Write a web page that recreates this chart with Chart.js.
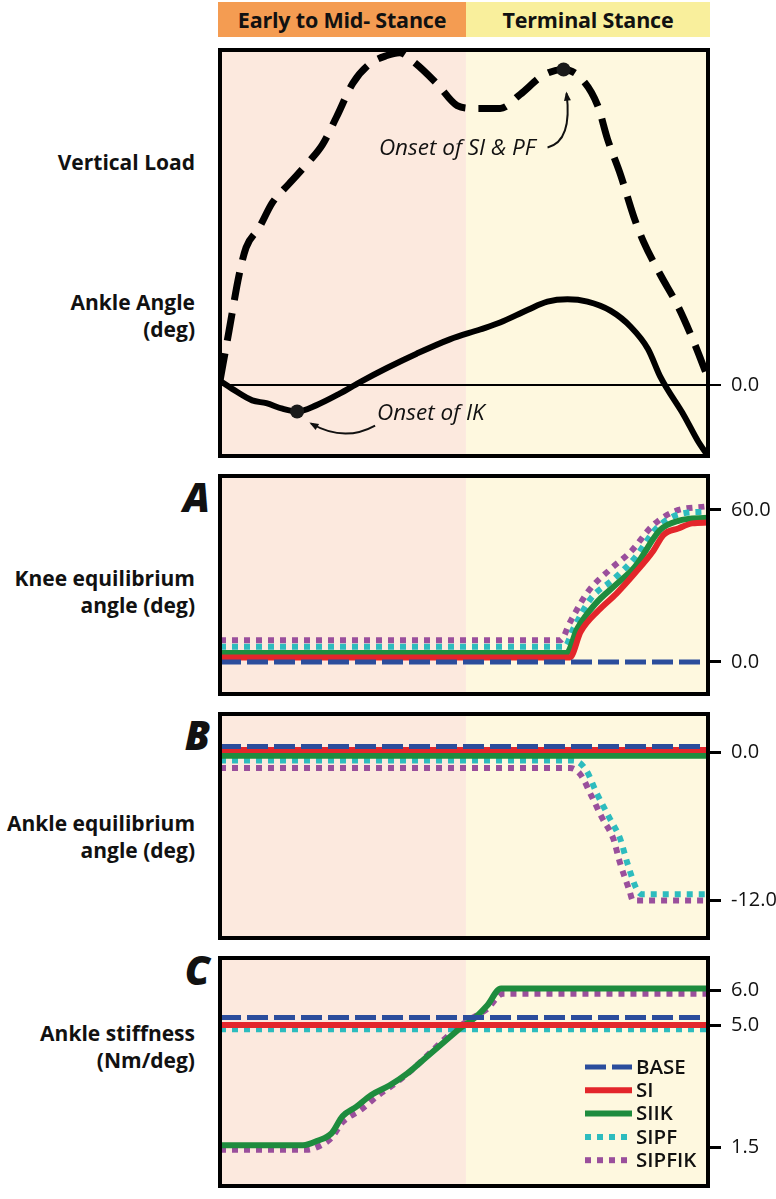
<!DOCTYPE html>
<html>
<head>
<meta charset="utf-8">
<script src="https://cdn.jsdelivr.net/npm/chart.js@4.4.1/dist/chart.umd.min.js"></script>
<style>
  body { margin: 0; background: #fff; }
  #page { position: relative; width: 776px; height: 1199px; overflow: hidden; font-family: 'Open Sans', sans-serif; color: #111; }
  .band { position: absolute; top: 2px; height: 35px; line-height: 35px; font-weight: 700; font-size: 21.5px; text-align: center; letter-spacing: -0.2px; }
  .lbl { position: absolute; right: 581px; text-align: right; font-weight: 700; font-size: 21px; line-height: 27px; white-space: nowrap; }
  .letter { position: absolute; right: 566px; font-style: italic; font-weight: 800; font-size: 40px; line-height: 40px; }
  canvas { position: absolute; left: 200px; }
</style>
</head>
<body>
<div id="page">
  <div class="band" style="left:218px;width:248px;background:#F49C52;">Early to Mid- Stance</div>
  <div class="band" style="left:466px;width:244px;background:#F9EF9C;">Terminal Stance</div>

  <div class="lbl" style="top:149px;">Vertical Load</div>
  <div class="lbl" style="top:289px;">Ankle Angle<br>(deg)</div>
  <div class="letter" style="top:477px;">A</div>
  <div class="lbl" style="top:565px;">Knee equilibrium<br>angle (deg)</div>
  <div class="letter" style="top:715px;">B</div>
  <div class="lbl" style="top:810px;">Ankle equilibrium<br>angle (deg)</div>
  <div class="letter" style="top:950px;">C</div>
  <div class="lbl" style="top:1020px;">Ankle stiffness<br>(Nm/deg)</div>

  <canvas id="cTop" width="576" height="450" style="top:28px;"></canvas>
  <canvas id="cKnee" width="576" height="262" style="top:454px;"></canvas>
  <canvas id="cAnkle" width="576" height="268" style="top:692px;"></canvas>
  <canvas id="cStiff" width="576" height="272" style="top:936px;"></canvas>
</div>

<script>
// ---- data (x = % of stance) ----
const phaseSplit = 50.4;

// top panel: vertical load (BW) and ankle angle (deg)
const loadX = [0, 1.85, 3.9, 5.35, 8.0, 10.7, 14.2, 18.3, 21.0, 23.9, 27.2, 30.7, 34.2, 36.8, 39.5, 44.4, 48.6, 51.9, 57.4, 61.5, 66.3, 70.4, 73.9, 77.4, 79.4, 82.1, 84.8, 86.8, 90.3, 93.8, 97.1, 100];
const load = [0.01, 0.19, 0.39, 0.49, 0.56, 0.65, 0.72, 0.80, 0.86, 0.96, 1.08, 1.15, 1.18, 1.19, 1.16, 1.08, 1.00, 0.99, 0.99, 1.04, 1.11, 1.13, 1.10, 1.00, 0.88, 0.75, 0.60, 0.51, 0.39, 0.28, 0.15, 0.02];
const loadOnset = 21;  // onset of SI & PF

const angleX = [0, 2.5, 6.6, 9.5, 12.8, 15.8, 19.8, 24.5, 28.6, 34.2, 40.3, 47.1, 53.3, 57.4, 63.0, 67.1, 71.2, 75.3, 80.0, 84.2, 87.7, 90.3, 95.1, 97.9, 100];
const angle = [0.3, -0.27, -1.1, -1.3, -1.7, -1.9, -1.44, -0.62, 0.2, 1.23, 2.26, 3.29, 4.0, 4.5, 5.4, 6.0, 6.17, 6.0, 5.35, 4.18, 2.6, 0.55, -2.2, -4.0, -5.1];
const angleOnset = 5;  // onset of IK

// A: knee equilibrium angle (deg)
const kneeBaseX = [0, 100], kneeBase = [0, 0];
const kneeSIX = [0, 71.7, 73.9, 77.6, 81.3, 85.0, 88.7, 90.9, 93.9, 96.8, 100];
const kneeSI = [1.8, 1.8, 11.9, 20.4, 27.1, 35.0, 43.6, 50.2, 52.7, 54.7, 55.0];
const kneeSIIKX = [0, 71.0, 73.2, 76.9, 81.3, 85.0, 90.2, 93.9, 100];
const kneeSIIK = [3.5, 3.5, 13.1, 22.9, 30.8, 37.5, 52.1, 55.7, 56.9];
const kneeSIPFX = [0, 70.6, 72.4, 76.1, 80.6, 85.0, 89.4, 93.9, 100];
const kneeSIPF = [6.0, 6.0, 13.1, 25.3, 32.6, 41.1, 52.7, 58.2, 59.4];
const kneeSIPFIKX = [0, 69.8, 71.7, 75.4, 79.8, 84.2, 88.7, 93.1, 100];
const kneeSIPFIK = [8.6, 8.6, 15.6, 27.7, 36.3, 43.6, 53.9, 59.4, 61.5];

// B: ankle equilibrium angle (deg)
const ankBaseX = [0, 100], ankBase = [0.5, 0.5];
const ankSIX = [0, 100], ankSI = [0.2, 0.2];
const ankSIIKX = [0, 100], ankSIIK = [-0.25, -0.25];
const ankSIPFX = [0, 72.4, 75.0, 77.2, 79.8, 82.0, 83.5, 85.4, 86.5, 100];
const ankSIPF = [-0.65, -0.65, -1.4, -3.3, -5.3, -7.0, -9.0, -11.1, -11.5, -11.5];
const ankSIPFIKX = [0, 71.7, 73.9, 76.1, 78.3, 80.6, 82.0, 83.9, 84.6, 100];
const ankSIPFIK = [-1.25, -1.25, -1.8, -3.5, -5.3, -7.0, -9.0, -11.2, -12.0, -12.0];

// C: ankle stiffness (Nm/deg)
const stiffBaseX = [0, 100], stiffBase = [5.22, 5.22];
const stiffSIX = [0, 100], stiffSI = [5.0, 5.0];
const stiffSIIKX = [0, 17.0, 20.0, 22.9, 25.1, 27.9, 31.0, 34.7, 38.4, 42.1, 45.8, 49.5, 52.5, 54.7, 57.6, 100];
const stiffSIIK = [1.56, 1.56, 1.69, 1.91, 2.39, 2.66, 3.0, 3.27, 3.62, 4.06, 4.5, 4.94, 5.24, 5.55, 6.05, 6.05];
const stiffSIPFX = [0, 100], stiffSIPF = [4.88, 4.88];
const stiffSIPFIKX = [0, 17.7, 20.7, 22.9, 25.1, 28.8, 32.5, 36.2, 39.9, 43.6, 47.3, 51.0, 54.7, 58.0, 100];
const stiffSIPFIK = [1.43, 1.43, 1.56, 1.78, 2.22, 2.57, 3.0, 3.36, 3.79, 4.28, 4.76, 5.15, 5.46, 5.9, 5.9];

const kneeTicks = [0, 60];
const ankleTicks = [0, -12];
const stiffTicks = [6, 5, 1.5];

// ---- styles ----
const styles = {
  BASE:   { color: '#2B4D9C', width: 5, dash: [21, 6] },
  SI:     { color: '#E3262B', width: 6, dash: [] },
  SIIK:   { color: '#1E8C3E', width: 6, dash: [] },
  SIPF:   { color: '#2DBCBE', width: 6, dash: [6, 6] },
  SIPFIK: { color: '#9A4F9C', width: 6, dash: [6, 6] }
};
const tickFont = { family: 'Open Sans', size: 20, weight: '500' };

function pts(xs, ys) {
  return xs.map((x, i) => ({ x: x, y: ys[i] }));
}

function series(name, xs, ys) {
  const s = styles[name];
  return {
    label: name,
    data: pts(xs, ys),
    borderColor: s.color,
    borderWidth: s.width,
    borderDash: s.dash,
    borderCapStyle: 'butt',
    pointRadius: 0,
    cubicInterpolationMode: 'monotone',
    fill: false
  };
}

// shaded stance phases behind each panel
const panelBg = {
  id: 'panelBg',
  beforeDraw(chart) {
    const { ctx, chartArea: a } = chart;
    const xm = chart.scales.x.getPixelForValue(phaseSplit);
    ctx.save();
    ctx.fillStyle = '#FCE9DE';
    ctx.fillRect(a.left, a.top, xm - a.left, a.bottom - a.top);
    ctx.fillStyle = '#FEF8DF';
    ctx.fillRect(xm, a.top, a.right - xm, a.bottom - a.top);
    ctx.restore();
  }
};

// thick black box round each panel
const frame = {
  id: 'frame',
  afterDraw(chart) {
    const { ctx, chartArea: a } = chart;
    ctx.save();
    ctx.strokeStyle = '#000';
    ctx.lineWidth = 4;
    ctx.strokeRect(a.left, a.top, a.right - a.left, a.bottom - a.top);
    ctx.restore();
  }
};

function arrow(ctx, x0, y0, cx, cy, x1, y1) {
  ctx.beginPath();
  ctx.moveTo(x0, y0);
  ctx.quadraticCurveTo(cx, cy, x1, y1);
  ctx.stroke();
  const ang = Math.atan2(y1 - cy, x1 - cx);
  ctx.beginPath();
  ctx.moveTo(x1 + 2 * Math.cos(ang), y1 + 2 * Math.sin(ang));
  ctx.lineTo(x1 - 8 * Math.cos(ang - 0.45), y1 - 8 * Math.sin(ang - 0.45));
  ctx.lineTo(x1 - 8 * Math.cos(ang + 0.45), y1 - 8 * Math.sin(ang + 0.45));
  ctx.closePath();
  ctx.fill();
}

// "Onset of ..." notes with curved arrows
const onsetNotes = {
  id: 'onsetNotes',
  afterDatasetsDraw(chart) {
    const { ctx } = chart;
    const xs = chart.scales.x;
    ctx.save();
    ctx.fillStyle = '#111';
    ctx.strokeStyle = '#111';
    ctx.lineWidth = 2;
    ctx.font = 'italic 400 22.5px "Open Sans"';

    let px = xs.getPixelForValue(loadX[loadOnset]);
    let py = chart.scales.yLoad.getPixelForValue(load[loadOnset]);
    ctx.textAlign = 'right';
    ctx.fillText('Onset of SI & PF', px - 28, py + 86);
    arrow(ctx, px - 16, py + 78, px + 9, py + 72, px + 3, py + 24);

    px = xs.getPixelForValue(angleX[angleOnset]);
    py = chart.scales.yAng.getPixelForValue(angle[angleOnset]);
    ctx.textAlign = 'left';
    ctx.fillText('Onset of IK', px + 80, py + 8);
    arrow(ctx, px + 78, py + 14, px + 47, py + 31, px + 14, py + 12);
    ctx.restore();
  }
};

// legend drawn inside the stiffness panel
const boxLegend = {
  id: 'boxLegend',
  afterDatasetsDraw(chart) {
    const { ctx, chartArea: a } = chart;
    const x0 = a.right - 123;
    ctx.save();
    chart.data.datasets.forEach((ds, i) => {
      const y = a.bottom - 119 + i * 23.3;
      ctx.strokeStyle = ds.borderColor;
      ctx.lineWidth = ds.borderWidth;
      ctx.lineCap = 'butt';
      ctx.setLineDash(ds.borderDash);
      ctx.beginPath();
      ctx.moveTo(x0, y);
      ctx.lineTo(x0 + 47, y);
      ctx.stroke();
      ctx.setLineDash([]);
      ctx.fillStyle = '#111';
      ctx.font = '600 20.5px "Open Sans"';
      ctx.textBaseline = 'middle';
      ctx.textAlign = 'left';
      ctx.fillText(ds.label, x0 + 51, y + 1);
    });
    ctx.restore();
  }
};

function rightAxis(min, max, ticks, gridOnArea) {
  return {
    position: 'right',
    min: min,
    max: max,
    afterBuildTicks: (scale) => { scale.ticks = ticks.map(v => ({ value: v })); },
    afterFit: (scale) => { scale.width = 68; },
    border: { display: false },
    grid: {
      drawOnChartArea: gridOnArea,
      color: '#000',
      lineWidth: gridOnArea ? 2 : 3,
      tickLength: 13
    },
    ticks: {
      padding: 10,
      color: '#111',
      font: tickFont,
      autoSkip: false,
      callback: (v) => Number(v).toFixed(1)
    }
  };
}

function baseOptions(scales) {
  return {
    responsive: false,
    animation: false,
    layout: { padding: { left: 20, right: 0, top: 12, bottom: 12 } },
    plugins: { legend: { display: false }, tooltip: { enabled: false } },
    scales: Object.assign({ x: { type: 'linear', min: 0, max: 100, display: false } }, scales)
  };
}

// ---- top panel ----
new Chart(document.getElementById('cTop'), {
  type: 'line',
  data: {
    datasets: [
      {
        label: 'Vertical Load',
        data: pts(loadX, load),
        yAxisID: 'yLoad',
        borderColor: '#000',
        borderWidth: 7,
        borderDash: [28, 13],
        borderCapStyle: 'butt',
        cubicInterpolationMode: 'monotone',
        pointRadius: (c) => c.dataIndex === loadOnset ? 7 : 0,
        pointBackgroundColor: '#1a1a1a',
        pointBorderWidth: 0
      },
      {
        label: 'Ankle Angle',
        data: pts(angleX, angle),
        yAxisID: 'yAng',
        borderColor: '#000',
        borderWidth: 6,
        cubicInterpolationMode: 'monotone',
        pointRadius: (c) => c.dataIndex === angleOnset ? 7 : 0,
        pointBackgroundColor: '#1a1a1a',
        pointBorderWidth: 0
      }
    ]
  },
  options: baseOptions({
    yLoad: { min: -0.26, max: 1.2, display: false },
    yAng: rightAxis(-5.1, 24.1, [0], true)
  }),
  plugins: [panelBg, frame, onsetNotes]
});

// ---- A: knee ----
new Chart(document.getElementById('cKnee'), {
  type: 'line',
  data: {
    datasets: [
      series('BASE', kneeBaseX, kneeBase),
      series('SI', kneeSIX, kneeSI),
      series('SIIK', kneeSIIKX, kneeSIIK),
      series('SIPF', kneeSIPFX, kneeSIPF),
      series('SIPFIK', kneeSIPFIKX, kneeSIPFIK)
    ]
  },
  options: baseOptions({ y: rightAxis(-12.65, 73.4, kneeTicks, false) }),
  plugins: [panelBg, frame]
});

// ---- B: ankle equilibrium ----
new Chart(document.getElementById('cAnkle'), {
  type: 'line',
  data: {
    datasets: [
      series('BASE', ankBaseX, ankBase),
      series('SI', ankSIX, ankSI),
      series('SIIK', ankSIIKX, ankSIIK),
      series('SIPF', ankSIPFX, ankSIPF),
      series('SIPFIK', ankSIPFIKX, ankSIPFIK)
    ]
  },
  options: baseOptions({ y: rightAxis(-15.05, 3.13, ankleTicks, false) }),
  plugins: [panelBg, frame]
});

// ---- C: ankle stiffness ----
new Chart(document.getElementById('cStiff'), {
  type: 'line',
  data: {
    datasets: [
      series('BASE', stiffBaseX, stiffBase),
      series('SI', stiffSIX, stiffSI),
      series('SIIK', stiffSIIKX, stiffSIIK),
      series('SIPF', stiffSIPFX, stiffSIPF),
      series('SIPFIK', stiffSIPFIKX, stiffSIPFIK)
    ]
  },
  options: baseOptions({ y: rightAxis(0.395, 6.92, stiffTicks, false) }),
  plugins: [panelBg, frame, boxLegend]
});
</script>
</body>
</html>
